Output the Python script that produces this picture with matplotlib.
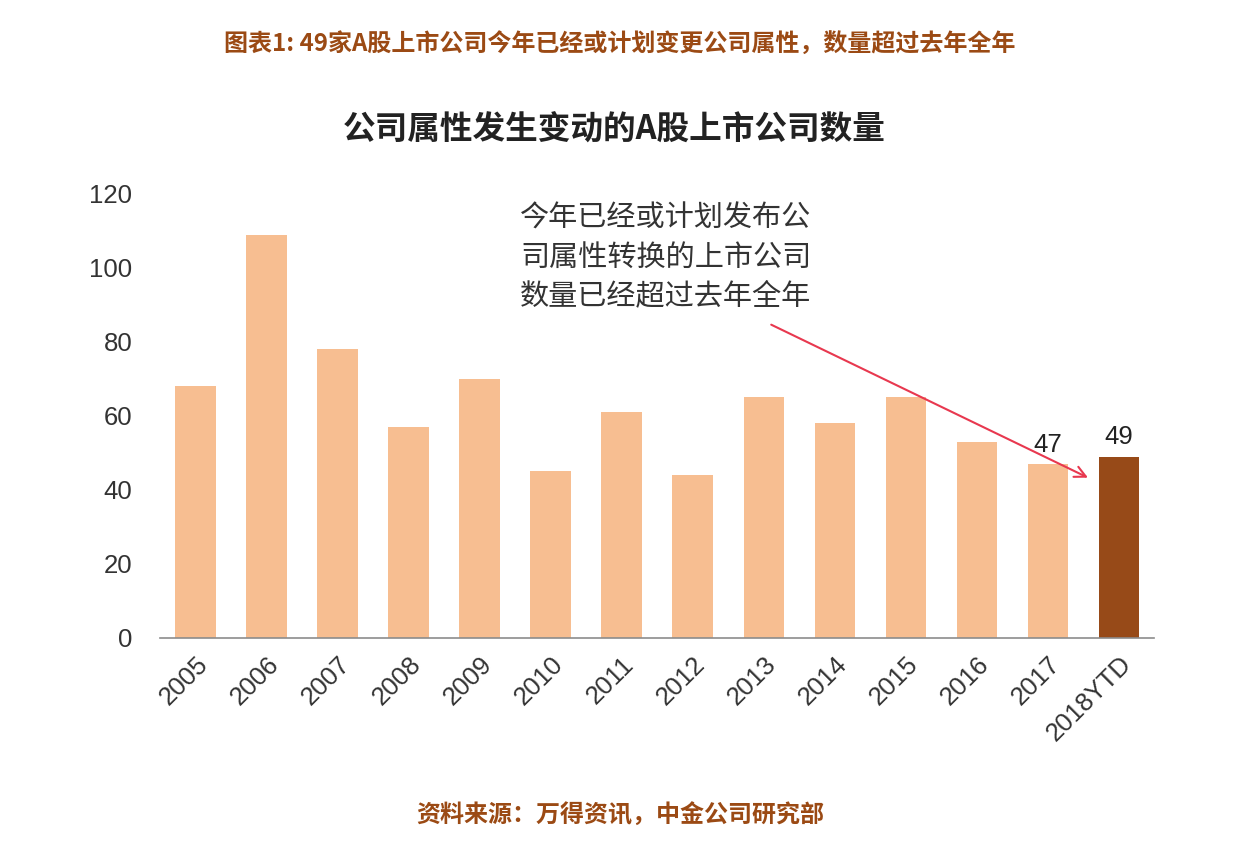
import matplotlib.pyplot as plt
import numpy as np

plt.rcParams['font.family'] = ['Liberation Sans', 'Noto Sans CJK SC', 'DejaVu Sans']

# data
years = ['2005', '2006', '2007', '2008', '2009', '2010', '2011', '2012',
         '2013', '2014', '2015', '2016', '2017', '2018YTD']
counts = [68, 109, 78, 57, 70, 45, 61, 44, 65, 58, 65, 53, 47, 49]
labelled = ['2017', '2018YTD']

light = '#F7BE91'
dark = '#974A18'
brown_text = '#9B4A14'

fig = plt.figure(figsize=(12.4, 8.56), dpi=100)
ax = fig.add_axes([0.129, 0.2547, 0.802, 0.5187])

x = np.arange(len(years))
colors = [light] * (len(years) - 1) + [dark]
ax.bar(x, counts, width=0.57, color=colors, zorder=2)

ax.set_xlim(-0.5, len(years) - 0.5)
ax.set_ylim(0, 120)
ax.set_yticks(range(0, 121, 20))
ax.set_xticks(x)
ax.set_xticklabels(years, rotation=45, ha='right', rotation_mode='anchor')
ax.tick_params(axis='both', length=0, labelsize=18.5, colors='#333333')
ax.tick_params(axis='y', pad=20)
ax.tick_params(axis='x', pad=10)

for s in ['top', 'right', 'left']:
    ax.spines[s].set_visible(False)
ax.spines['bottom'].set_color('#8C8C8C')
ax.spines['bottom'].set_linewidth(1.2)

# value labels on last two bars
for i, (yr, v) in enumerate(zip(years, counts)):
    if yr in labelled:
        ax.text(i, v + 2, str(v), ha='center', va='bottom', fontsize=18.5, color='#222222')

# annotation
ax.text(6.62, 117.5, '今年已经或计划发布公\n司属性转换的上市公司\n数量已经超过去年全年',
        ha='center', va='top', fontsize=21, color='#333333',
        family=['Noto Sans CJK SC'], linespacing=1.4)
ax.annotate('', xy=(12.6, 43), xytext=(8.07, 85),
            arrowprops=dict(arrowstyle='->', color='#E8384F', lw=1.5,
                            mutation_scale=20))

# titles
fig.text(0.495, 0.848, '公司属性发生变动的A股上市公司数量', ha='center', va='center',
         fontsize=23.5, fontweight='bold', color='#222222',
         family=['Noto Sans CJK SC', 'DejaVu Sans'])
fig.text(0.5, 0.947, '图表1: 49家A股上市公司今年已经或计划变更公司属性，数量超过去年全年',
         ha='center', va='center', fontsize=17.3, fontweight='bold', style='italic',
         color=brown_text, family=['Noto Sans CJK SC', 'DejaVu Sans'])
fig.text(0.5, 0.047, '资料来源：万得资讯，中金公司研究部',
         ha='center', va='center', fontsize=17.3, fontweight='bold', style='italic',
         color=brown_text, family=['Noto Sans CJK SC', 'DejaVu Sans'])

fig.savefig('out.png', dpi=100)
